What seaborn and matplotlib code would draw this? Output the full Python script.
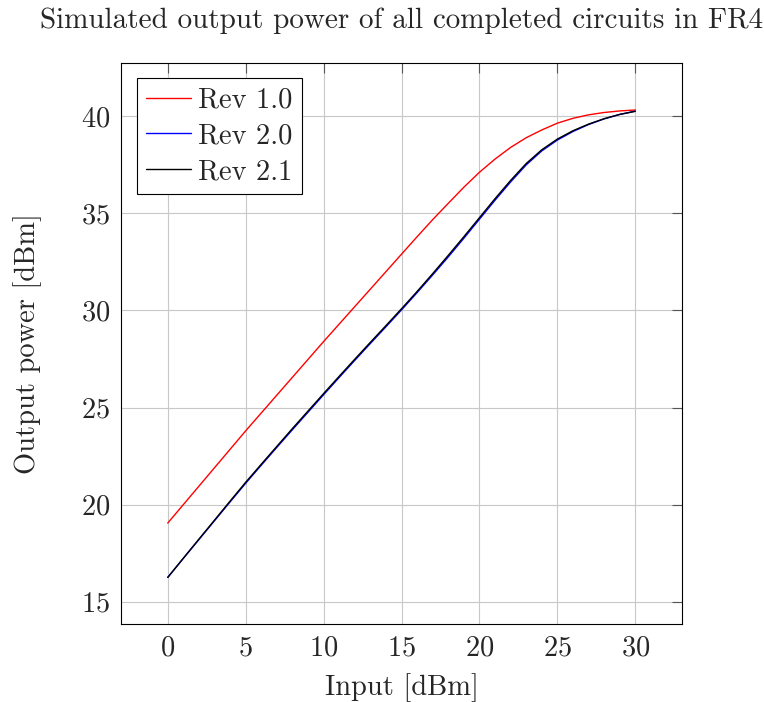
import numpy as np
import pandas as pd
import matplotlib
matplotlib.use("Agg")
import matplotlib.pyplot as plt
import seaborn as sns

# ---- data ----
input_dbm = [0, 1, 2, 3, 4, 5, 6, 7, 8, 9, 10, 11, 12, 13, 14, 15,
             16, 17, 18, 19, 20, 21, 22, 23, 24, 25, 26, 27, 28, 29, 30]
rev10 = [19.05, 20.0, 20.95, 21.9, 22.85, 23.8, 24.72, 25.64, 26.56, 27.48,
         28.4, 29.3, 30.2, 31.1, 32.0, 32.9, 33.8, 34.68, 35.52, 36.35,
         37.12, 37.8, 38.4, 38.9, 39.3, 39.65, 39.9, 40.08, 40.2, 40.28, 40.33]
rev20 = [16.25, 17.23, 18.2, 19.17, 20.14, 21.1, 22.03, 22.95, 23.86, 24.76,
         25.66, 26.55, 27.43, 28.3, 29.16, 30.03, 30.92, 31.83, 32.76, 33.72,
         34.7, 35.68, 36.62, 37.5, 38.22, 38.78, 39.22, 39.58, 39.87, 40.1, 40.27]
rev21 = [16.25, 17.24, 18.22, 19.2, 20.18, 21.15, 22.08, 23.0, 23.92, 24.82,
         25.72, 26.61, 27.49, 28.36, 29.22, 30.09, 30.98, 31.9, 32.84, 33.8,
         34.78, 35.76, 36.7, 37.57, 38.28, 38.83, 39.26, 39.6, 39.88, 40.1, 40.26]
series_names = ["Rev 1.0", "Rev 2.0", "Rev 2.1"]
series_colors = ["red", "blue", "black"]
x_ticks = [0, 5, 10, 15, 20, 25, 30]
y_ticks = [15, 20, 25, 30, 35, 40]

title = "Simulated output power of all completed circuits in FR4"
x_label = "Input [dBm]"
y_label = "Output power [dBm]"

df = pd.concat([
    pd.DataFrame({"x": input_dbm, "y": vals, "rev": name})
    for name, vals in zip(series_names, [rev10, rev20, rev21])
], ignore_index=True)

sns.set_theme(style="white")
plt.rcParams["font.family"] = ["cmr10", "DejaVu Serif"]
plt.rcParams["mathtext.fontset"] = "cm"
plt.rcParams["axes.formatter.use_mathtext"] = True

FS = 20.5

fig = plt.figure(figsize=(7.64, 7.02), dpi=100)
ax = fig.add_axes([121 / 764, 1 - 624 / 702, (682 - 121) / 764, (624 - 63) / 702])

sns.lineplot(data=df, x="x", y="y", hue="rev", hue_order=series_names,
             palette=dict(zip(series_names, series_colors)), linewidth=1.0,
             ax=ax, legend=True, sort=False)

ax.set_xlim(-3, 33)
ax.set_ylim(13.85, 42.75)
ax.set_xticks(x_ticks)
ax.set_yticks(y_ticks)
ax.grid(True, color="#c8c8c8", linewidth=0.8)
ax.set_axisbelow(True)
for s in ax.spines.values():
    s.set_color("black")
    s.set_linewidth(0.8)
ax.tick_params(direction="in", length=7, width=0.8, color="#555555",
               top=True, right=True, labelsize=FS, pad=8)

ax.set_title(title, fontsize=21, y=1.062, pad=0)
ax.set_xlabel(x_label, fontsize=FS)
ax.set_ylabel(y_label, fontsize=FS)
ax.xaxis.set_label_coords(0.5, -0.087)
ax.yaxis.set_label_coords(-0.141, 0.5)

leg = ax.legend(loc="upper left", fontsize=FS, frameon=True, fancybox=False,
                edgecolor="black", framealpha=1, handlelength=1.6,
                handletextpad=0.25, borderpad=0.32, labelspacing=0.33,
                bbox_to_anchor=(0.028, 0.973), borderaxespad=0)
leg.get_frame().set_linewidth(0.8)

fig.savefig("out.png", dpi=100)
